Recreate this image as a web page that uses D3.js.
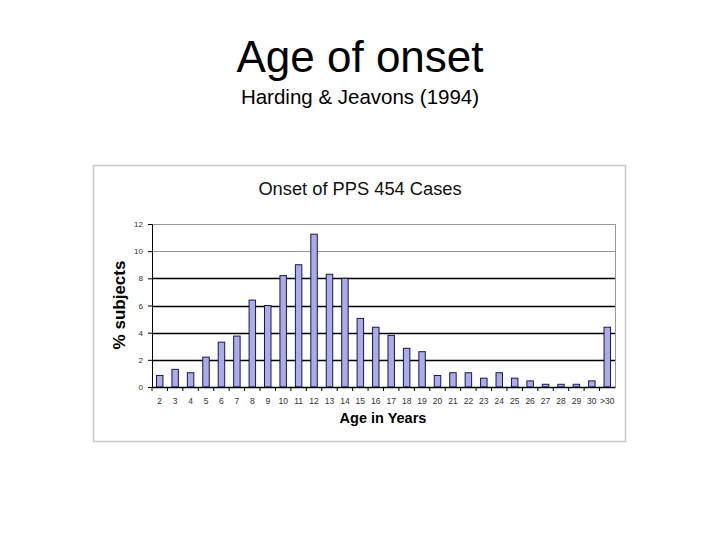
<!DOCTYPE html>
<html>
<head>
<meta charset="utf-8">
<script src="https://cdn.jsdelivr.net/npm/d3@7"></script>
<style>
body { margin: 0; background: #fff; }
</style>
</head>
<body>
<div id="chart"></div>
<script>
// onset data
var ages = ["2","3","4","5","6","7","8","9","10","11","12","13","14","15","16",
	"17","18","19","20","21","22","23","24","25","26","27","28","29","30",">30"];
var pct = [0.85, 1.3, 1.05, 2.2, 3.3, 3.75, 6.4, 6.0, 8.2, 9.0, 11.25, 8.3, 8.0, 5.05, 4.4,
	3.8, 2.85, 2.6, 0.85, 1.05, 1.05, 0.65, 1.05, 0.65, 0.45, 0.2, 0.2, 0.2, 0.45, 4.4];
var yTicks = [0, 2, 4, 6, 8, 10, 12];

(function(){
	var w = 720, h = 540;
	var svg = d3.select("#chart").append("svg")
		.attr("width", w)
		.attr("height", h);

	// slide titles
	svg.append("text")
		.attr("x", 360).attr("y", 72)
		.attr("text-anchor", "middle")
		.attr("font-family", "Liberation Sans, Arial, sans-serif")
		.attr("font-size", 44)
		.text("Age of onset");
	svg.append("text")
		.attr("x", 360).attr("y", 104)
		.attr("text-anchor", "middle")
		.attr("font-family", "Liberation Sans, Arial, sans-serif")
		.attr("font-size", 20.5)
		.text("Harding & Jeavons (1994)");

	// chart frame
	svg.append("rect")
		.attr("x", 93.5).attr("y", 165.5)
		.attr("width", 532).attr("height", 276)
		.attr("fill", "#fff")
		.attr("stroke", "#c8c8c8")
		.attr("stroke-width", 1.5);

	svg.append("text")
		.attr("x", 360).attr("y", 195)
		.attr("text-anchor", "middle")
		.attr("font-family", "Liberation Sans, Arial, sans-serif")
		.attr("font-size", 18.3)
		.attr("fill", "#111")
		.text("Onset of PPS 454 Cases");

	var pl = 152, pr = 615, pt = 224, pb = 387;

	var x = d3.scaleBand()
		.domain(ages)
		.range([pl, pr])
		.paddingInner(0.58)
		.paddingOuter(0.29);

	var y = d3.scaleLinear()
		.domain([0, 12])
		.range([pb, pt]);

	// grid lines
	svg.append("g").selectAll("line")
		.data(yTicks.filter(function(d){ return d > 0; }))
		.enter()
		.append("line")
			.attr("x1", pl).attr("x2", pr)
			.attr("y1", function(d){ return Math.round(y(d)) + 0.5; })
			.attr("y2", function(d){ return Math.round(y(d)) + 0.5; })
			.attr("stroke", function(d){ return d >= 10 ? "#999" : "#000"; })
			.attr("stroke-width", function(d){ return d >= 10 ? 1 : 1.3; });

	// right border of plot area
	svg.append("line")
		.attr("x1", pr + 0.5).attr("x2", pr + 0.5)
		.attr("y1", pt).attr("y2", pb)
		.attr("stroke", "#999");

	// bars
	svg.append("g").selectAll("rect")
		.data(pct)
		.enter()
		.append("rect")
			.attr("x", function(d, i){ return x(ages[i]); })
			.attr("y", function(d){ return y(d); })
			.attr("width", x.bandwidth())
			.attr("height", function(d){ return pb - y(d); })
			.attr("fill", "#aaaaee")
			.attr("stroke", "#1a1a40")
			.attr("stroke-width", 1);

	// y axis
	var yAxis = d3.axisLeft(y).tickValues(yTicks).tickSize(4).tickPadding(5);
	var gy = svg.append("g")
		.attr("transform", "translate(" + pl + ",0)")
		.call(yAxis);
	gy.selectAll("text")
		.attr("font-family", "Liberation Sans, Arial, sans-serif")
		.attr("font-size", 8)
		.attr("fill", "#333");

	// x axis, ticks between categories
	var xAxis = d3.axisBottom(x).tickSize(0).tickPadding(11);
	var gx = svg.append("g")
		.attr("transform", "translate(0," + pb + ")")
		.call(xAxis);
	gx.select(".domain").attr("stroke", "#000").attr("stroke-width", 1.3);
	gx.selectAll("text")
		.attr("font-family", "Liberation Sans, Arial, sans-serif")
		.attr("font-size", 8.5)
		.attr("fill", "#333");
	var step = x.step();
	gx.selectAll(".sep")
		.data(ages)
		.enter()
		.append("line")
			.attr("class", "sep")
			.attr("x1", function(d){ return x(d) - (step - x.bandwidth()) / 2; })
			.attr("x2", function(d){ return x(d) - (step - x.bandwidth()) / 2; })
			.attr("y1", 0).attr("y2", 4)
			.attr("stroke", "#000");

	// axis titles
	svg.append("text")
		.attr("transform", "translate(125,305) rotate(-90)")
		.attr("text-anchor", "middle")
		.attr("font-family", "Liberation Sans, Arial, sans-serif")
		.attr("font-weight", "bold")
		.attr("font-size", 17)
		.text("% subjects");
	svg.append("text")
		.attr("x", 383).attr("y", 423)
		.attr("text-anchor", "middle")
		.attr("font-family", "Liberation Sans, Arial, sans-serif")
		.attr("font-weight", "bold")
		.attr("font-size", 14.5)
		.text("Age in Years");
})();
</script>
</body>
</html>
